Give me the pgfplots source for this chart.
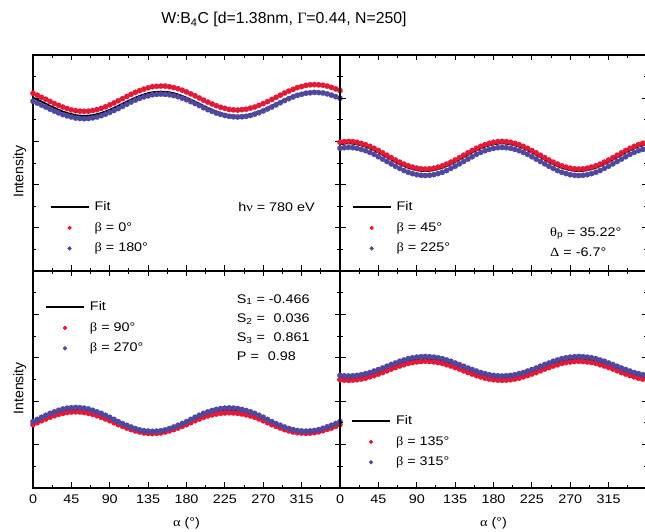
\documentclass[border=0pt]{standalone}
\usepackage{fontspec}
\setmainfont{Liberation Sans}
\newfontfamily\sfs{Liberation Sans}[FakeStretch=1.15]
\newfontfamily\grs{Liberation Serif}[FakeStretch=1.15]
\newfontfamily\gr{Liberation Serif}
\usepackage{pgfplots}
\pgfplotsset{compat=1.18}
\usepackage{pgfplotstable}

\definecolor{cred}{RGB}{228,25,55}
\definecolor{cblue}{RGB}{78,72,160}
\newcommand{\tickfont}{\sfs\fontsize{12.5}{14}\selectfont}
\newcommand{\legfont}{\sfs\fontsize{12.5}{14}\selectfont}

% alpha, red, blue, fit
\pgfplotstableread{
a r b f
0 8.23 7.86 8.02
5 8.14 7.77 7.93
10 8.04 7.68 7.84
15 7.95 7.59 7.74
20 7.85 7.49 7.64
25 7.75 7.40 7.55
30 7.67 7.32 7.46
35 7.59 7.24 7.38
40 7.52 7.18 7.31
45 7.46 7.13 7.26
50 7.42 7.08 7.21
55 7.40 7.06 7.19
60 7.39 7.05 7.18
65 7.40 7.06 7.19
70 7.43 7.09 7.21
75 7.47 7.13 7.26
80 7.53 7.19 7.31
85 7.60 7.26 7.38
90 7.69 7.34 7.46
95 7.78 7.43 7.55
100 7.88 7.52 7.64
105 7.98 7.62 7.74
110 8.08 7.72 7.84
115 8.18 7.82 7.93
120 8.27 7.91 8.02
125 8.35 7.99 8.10
130 8.42 8.06 8.17
135 8.48 8.11 8.23
140 8.53 8.16 8.27
145 8.55 8.18 8.29
150 8.56 8.19 8.30
155 8.56 8.18 8.29
160 8.53 8.16 8.27
165 8.49 8.12 8.23
170 8.44 8.07 8.17
175 8.37 8.00 8.10
180 8.29 7.93 8.02
185 8.20 7.84 7.93
190 8.11 7.75 7.84
195 8.01 7.66 7.74
200 7.91 7.56 7.64
205 7.82 7.47 7.55
210 7.73 7.39 7.46
215 7.65 7.31 7.38
220 7.58 7.25 7.31
225 7.53 7.20 7.26
230 7.48 7.16 7.21
235 7.46 7.14 7.19
240 7.45 7.13 7.18
245 7.47 7.14 7.19
250 7.49 7.16 7.21
255 7.54 7.20 7.26
260 7.59 7.26 7.31
265 7.67 7.33 7.38
270 7.75 7.41 7.46
275 7.84 7.50 7.55
280 7.94 7.59 7.64
285 8.04 7.69 7.74
290 8.14 7.79 7.84
295 8.24 7.89 7.93
300 8.33 7.98 8.02
305 8.41 8.06 8.10
310 8.49 8.13 8.17
315 8.54 8.18 8.23
320 8.59 8.23 8.27
325 8.62 8.25 8.29
330 8.63 8.27 8.30
335 8.62 8.26 8.29
340 8.60 8.24 8.27
345 8.56 8.20 8.23
350 8.50 8.14 8.17
355 8.43 8.07 8.10
360 8.35 8.00 8.02
}\tabTL

\pgfplotstableread{
a r b f
0 5.96 5.68 5.87
5 5.99 5.71 5.90
10 6.00 5.72 5.91
15 5.99 5.71 5.90
20 5.96 5.68 5.87
25 5.91 5.63 5.82
30 5.85 5.57 5.76
35 5.77 5.49 5.68
40 5.68 5.40 5.59
45 5.58 5.29 5.49
50 5.47 5.18 5.38
55 5.36 5.07 5.27
60 5.25 4.96 5.16
65 5.14 4.85 5.05
70 5.04 4.75 4.95
75 4.95 4.65 4.86
80 4.87 4.57 4.78
85 4.81 4.51 4.72
90 4.76 4.46 4.67
95 4.73 4.43 4.64
100 4.72 4.42 4.63
105 4.73 4.43 4.64
110 4.76 4.46 4.67
115 4.81 4.51 4.72
120 4.87 4.57 4.78
125 4.95 4.65 4.86
130 5.04 4.75 4.95
135 5.14 4.85 5.05
140 5.25 4.96 5.16
145 5.36 5.07 5.27
150 5.47 5.18 5.38
155 5.58 5.29 5.49
160 5.68 5.40 5.59
165 5.77 5.49 5.68
170 5.85 5.57 5.76
175 5.91 5.63 5.82
180 5.96 5.68 5.87
185 5.99 5.71 5.90
190 6.00 5.72 5.91
195 5.99 5.71 5.90
200 5.96 5.68 5.87
205 5.91 5.63 5.82
210 5.85 5.57 5.76
215 5.77 5.49 5.68
220 5.68 5.40 5.59
225 5.58 5.29 5.49
230 5.47 5.18 5.38
235 5.36 5.07 5.27
240 5.25 4.96 5.16
245 5.14 4.85 5.05
250 5.04 4.75 4.95
255 4.95 4.65 4.86
260 4.87 4.57 4.78
265 4.81 4.51 4.72
270 4.76 4.46 4.67
275 4.73 4.43 4.64
280 4.72 4.42 4.63
285 4.73 4.43 4.64
290 4.76 4.46 4.67
295 4.81 4.51 4.72
300 4.87 4.57 4.78
305 4.95 4.65 4.86
310 5.04 4.75 4.95
315 5.14 4.85 5.05
320 5.25 4.96 5.16
325 5.36 5.07 5.27
330 5.47 5.18 5.38
335 5.58 5.29 5.49
340 5.68 5.40 5.59
345 5.77 5.49 5.68
350 5.85 5.57 5.76
355 5.91 5.63 5.82
360 5.96 5.68 5.87
}\tabTR

\pgfplotstableread{
a r b f
0 2.92 3.06 3.00
5 3.01 3.16 3.09
10 3.10 3.26 3.18
15 3.18 3.35 3.27
20 3.26 3.44 3.35
25 3.33 3.51 3.42
30 3.39 3.58 3.49
35 3.44 3.64 3.54
40 3.48 3.68 3.58
45 3.50 3.70 3.60
50 3.51 3.71 3.61
55 3.50 3.70 3.60
60 3.48 3.68 3.58
65 3.44 3.64 3.54
70 3.39 3.58 3.49
75 3.33 3.51 3.42
80 3.26 3.44 3.35
85 3.18 3.35 3.27
90 3.10 3.26 3.18
95 3.01 3.16 3.09
100 2.92 3.06 3.00
105 2.84 2.97 2.91
110 2.76 2.89 2.83
115 2.69 2.81 2.76
120 2.63 2.74 2.69
125 2.58 2.68 2.64
130 2.54 2.64 2.60
135 2.52 2.62 2.58
140 2.51 2.61 2.57
145 2.52 2.62 2.58
150 2.54 2.64 2.60
155 2.58 2.68 2.64
160 2.63 2.74 2.69
165 2.69 2.81 2.76
170 2.76 2.89 2.83
175 2.84 2.97 2.91
180 2.92 3.06 3.00
185 3.01 3.16 3.09
190 3.10 3.26 3.18
195 3.18 3.35 3.27
200 3.26 3.44 3.35
205 3.32 3.51 3.42
210 3.37 3.57 3.49
215 3.41 3.62 3.54
220 3.44 3.66 3.58
225 3.46 3.68 3.60
230 3.47 3.69 3.61
235 3.46 3.68 3.60
240 3.44 3.66 3.58
245 3.41 3.62 3.54
250 3.37 3.57 3.49
255 3.32 3.51 3.42
260 3.26 3.44 3.35
265 3.18 3.35 3.27
270 3.10 3.26 3.18
275 3.01 3.16 3.09
280 2.92 3.06 3.00
285 2.84 2.97 2.91
290 2.76 2.89 2.83
295 2.69 2.81 2.76
300 2.63 2.74 2.69
305 2.58 2.69 2.64
310 2.55 2.65 2.60
315 2.53 2.63 2.58
320 2.52 2.62 2.57
325 2.53 2.63 2.58
330 2.55 2.65 2.60
335 2.59 2.69 2.64
340 2.64 2.75 2.69
345 2.70 2.82 2.76
350 2.76 2.89 2.83
355 2.84 2.97 2.91
360 2.92 3.06 3.00
}\tabBL

\pgfplotstableread{
a r b f
0 4.99 5.19 5.09
5 4.97 5.17 5.07
10 4.96 5.16 5.06
15 4.97 5.17 5.07
20 4.99 5.19 5.09
25 5.02 5.22 5.12
30 5.06 5.27 5.16
35 5.12 5.32 5.22
40 5.18 5.39 5.28
45 5.25 5.46 5.35
50 5.32 5.53 5.42
55 5.40 5.61 5.50
60 5.48 5.69 5.58
65 5.55 5.76 5.65
70 5.62 5.84 5.72
75 5.68 5.90 5.78
80 5.74 5.96 5.84
85 5.78 6.00 5.88
90 5.81 6.03 5.91
95 5.83 6.05 5.93
100 5.84 6.06 5.94
105 5.83 6.05 5.93
110 5.81 6.03 5.91
115 5.78 6.00 5.88
120 5.74 5.96 5.84
125 5.68 5.90 5.78
130 5.62 5.84 5.72
135 5.55 5.76 5.65
140 5.48 5.69 5.58
145 5.40 5.61 5.50
150 5.32 5.53 5.42
155 5.25 5.46 5.35
160 5.18 5.39 5.28
165 5.12 5.32 5.22
170 5.06 5.27 5.16
175 5.02 5.22 5.12
180 4.99 5.19 5.09
185 4.97 5.17 5.07
190 4.96 5.16 5.06
195 4.97 5.17 5.07
200 4.99 5.19 5.09
205 5.02 5.22 5.12
210 5.06 5.27 5.16
215 5.12 5.32 5.22
220 5.18 5.39 5.28
225 5.25 5.46 5.35
230 5.32 5.53 5.42
235 5.40 5.61 5.50
240 5.48 5.69 5.58
245 5.55 5.76 5.65
250 5.62 5.84 5.72
255 5.68 5.90 5.78
260 5.74 5.96 5.84
265 5.78 6.00 5.88
270 5.81 6.03 5.91
275 5.83 6.05 5.93
280 5.84 6.06 5.94
285 5.83 6.05 5.93
290 5.81 6.03 5.91
295 5.78 6.00 5.88
300 5.74 5.96 5.84
305 5.68 5.90 5.78
310 5.62 5.84 5.72
315 5.55 5.76 5.65
320 5.48 5.69 5.58
325 5.40 5.61 5.50
330 5.32 5.53 5.42
335 5.25 5.46 5.35
340 5.18 5.39 5.28
345 5.12 5.32 5.22
350 5.06 5.27 5.16
355 5.02 5.22 5.12
360 4.99 5.19 5.09
}\tabBR

\pgfplotsset{
  panel/.style={
    scale only axis, width=307pt,
    xmin=0, xmax=360, ymin=0, ymax=10,
    xtick={0,45,...,360}, minor x tick num=1,
    ytick={0,2,...,10}, minor y tick num=1,
    yticklabels={},
    tick align=inside, tick pos=both,
    major tick length=5.5pt, minor tick length=3pt,
    axis line style={line width=1.1pt},
    every tick/.style={black, line width=0.9pt},
    clip=false,
    tick label style={font=\tickfont},
    xticklabel style={inner sep=0pt, yshift=-6.5pt},
    legend cell align=left,
    legend style={draw=none, fill=none, inner sep=0pt, outer sep=0pt,
      anchor=north west, font=\legfont, row sep=9pt, column sep=5pt,
      nodes={inner sep=0pt, text height=9pt, text depth=2.5pt}},
    every axis x label/.style={at={(axis description cs:0.5,0)}, anchor=base, yshift=-39pt, font=\legfont},
    every axis y label/.style={at={(axis description cs:-0.0316,0.46)}, rotate=90, anchor=base, font=\fontsize{14}{16}\selectfont},
  },
  fitp/.style={color=black, line width=2pt, no markers,
    legend image code/.code={\draw[black,line width=2pt] (0pt,0pt) -- (38pt,0pt);}},
  redp/.style={only marks, color=cred, mark=*, mark size=2.7pt, mark options={fill=cred, draw=cred, line width=0.2pt},
    legend image code/.code={\path[draw=none,fill=none] (0pt,-1pt) rectangle (38pt,1pt); \fill[cred] (19pt,0pt) circle (1.9pt);}},
  bluep/.style={only marks, color=cblue, mark=*, mark size=2.7pt, mark options={fill=cblue, draw=cblue, line width=0.2pt},
    legend image code/.code={\path[draw=none,fill=none] (0pt,-1pt) rectangle (38pt,1pt); \fill[cblue] (19pt,0pt) circle (1.9pt);}},
}

\begin{document}
\begin{tikzpicture}[x=1pt,y=1pt]
% top left
\begin{axis}[panel, height=216pt, at={(33pt,261pt)}, anchor=south west,
  xticklabels={}, ylabel={Intensity},
  legend style={at={(axis description cs:0.054,0.321)}}]
\addplot[fitp] table[x=a,y=f]{\tabTL};
\addplot[redp] table[x=a,y=r]{\tabTL};
\addplot[bluep] table[x=a,y=b]{\tabTL};
\legend{Fit,{\grs β} = 0°,{\grs β} = 180°}
\node[anchor=base west, inner sep=0pt, font=\legfont] at (axis description cs:0.668,0.2745) {h{\grs ν} = 780 eV};
\end{axis}
% top right
\begin{axis}[panel, height=216pt, at={(340pt,261pt)}, anchor=south west,
  xticklabels={},
  legend style={at={(axis description cs:0.038,0.321)}}]
\addplot[fitp] table[x=a,y=f]{\tabTR};
\addplot[redp] table[x=a,y=r]{\tabTR};
\addplot[bluep] table[x=a,y=b]{\tabTR};
\legend{Fit,{\grs β} = 45°,{\grs β} = 225°}
\node[anchor=base west, inner sep=0pt, font=\legfont] at (axis description cs:0.684,0.162) {{\grs θ}\textsubscript{p} = 35.22°};
\node[anchor=base west, inner sep=0pt, font=\legfont] at (axis description cs:0.684,0.065) {{\grs Δ} = -6.7°};
\end{axis}
% bottom left
\begin{axis}[panel, height=217pt, at={(33pt,44pt)}, anchor=south west,
  xticklabels={0,45,90,135,180,225,270,315,{}},
  xlabel={{\grs α} (°)}, ylabel={Intensity},
  legend style={at={(axis description cs:0.039,0.859)}}]
\addplot[fitp] table[x=a,y=f]{\tabBL};
\addplot[redp] table[x=a,y=r]{\tabBL};
\addplot[bluep] table[x=a,y=b]{\tabBL};
\legend{Fit,{\grs β} = 90°,{\grs β} = 270°}
\node[anchor=base west, inner sep=0pt, font=\legfont] at (axis description cs:0.6635,0.852) {S\textsubscript{1} = -0.466};
\node[anchor=base west, inner sep=0pt, font=\legfont] at (axis description cs:0.6635,0.764) {S\textsubscript{2} = \hphantom{-}0.036};
\node[anchor=base west, inner sep=0pt, font=\legfont] at (axis description cs:0.6635,0.677) {S\textsubscript{3} = \hphantom{-}0.861};
\node[anchor=base west, inner sep=0pt, font=\legfont] at (axis description cs:0.6635,0.589) {P\,\,= \hphantom{-}0.98};
\end{axis}
% bottom right
\begin{axis}[panel, height=217pt, at={(340pt,44pt)}, anchor=south west,
  xticklabels={0,45,90,135,180,225,270,315,{}},
  xlabel={{\grs α} (°)},
  legend style={at={(axis description cs:0.036,0.334)}}]
\addplot[fitp] table[x=a,y=f]{\tabBR};
\addplot[redp] table[x=a,y=r]{\tabBR};
\addplot[bluep] table[x=a,y=b]{\tabBR};
\legend{Fit,{\grs β} = 135°,{\grs β} = 315°}
\end{axis}
\node[anchor=base, inner sep=0pt, font=\fontsize{15.8}{17}\selectfont] at (284pt,508.5pt) {W:B\textsubscript{4}C [d=1.38nm, {\gr Γ}=0.44, N=250]};
\pgfresetboundingbox
\useasboundingbox (0pt,0pt) rectangle (645pt,532pt);
\end{tikzpicture}
\end{document}
